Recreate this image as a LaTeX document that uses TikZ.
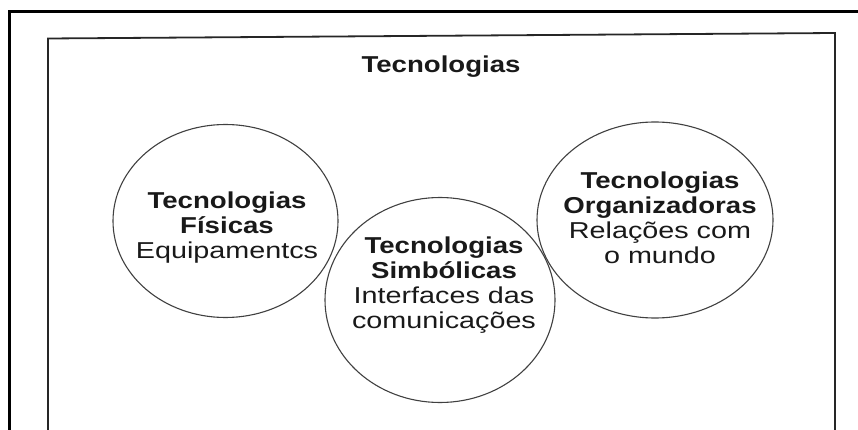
\documentclass[tikz,border=0pt]{standalone}
\usepackage{fontspec}
\setmainfont{Liberation Sans}[FakeStretch=1.25,BoldFeatures={FakeStretch=1.2}]
\usetikzlibrary{shapes.geometric}
\begin{document}
\begin{tikzpicture}[x=1pt,y=-1pt,
  frame/.style={line width=3.3pt,black},
  panel/.style={line width=1.8pt,black!85},
  blob/.style={ellipse,draw=black!75,line width=1.1pt,inner sep=0pt},
  words/.style={align=center,anchor=north,inner sep=0pt,text=black!90,
    font=\fontsize{23}{25}\selectfont},
  heading/.style={anchor=base,inner sep=0pt,text=black!90,
    font=\fontsize{23}{25}\selectfont\bfseries}
]
\useasboundingbox (0,0) rectangle (858,430);

% page frame and the panel holding the three technologies
\draw[frame] (9.5,430) -- (9.5,11.5) -- (858,11.5);
\draw[panel] (48,430) -- (48,38.5) -- (835,33) -- (835,430);

\node[heading] (title) at (441,73) {Tecnologias};

% the three overlapping ellipses
\node[blob, minimum width=225, minimum height=193] (fis) at (225.5,221) {};
\node[blob, minimum width=230, minimum height=205] (sim) at (440,300) {};
\node[blob, minimum width=236, minimum height=196] (org) at (655,220) {};

\node[words] (fistxt) at (227,191.5) {\textbf{Tecnologias}\\\textbf{Físicas}\\Equipamentcs};
\node[words] (simtxt) at (444,236.5) {\textbf{Tecnologias}\\\textbf{Simbólicas}\\Interfaces das\\comunicações};
\node[words] (orgtxt) at (660,171.5) {\textbf{Tecnologias}\\\textbf{Organizadoras}\\Relações com\\o mundo};
\end{tikzpicture}
\end{document}
